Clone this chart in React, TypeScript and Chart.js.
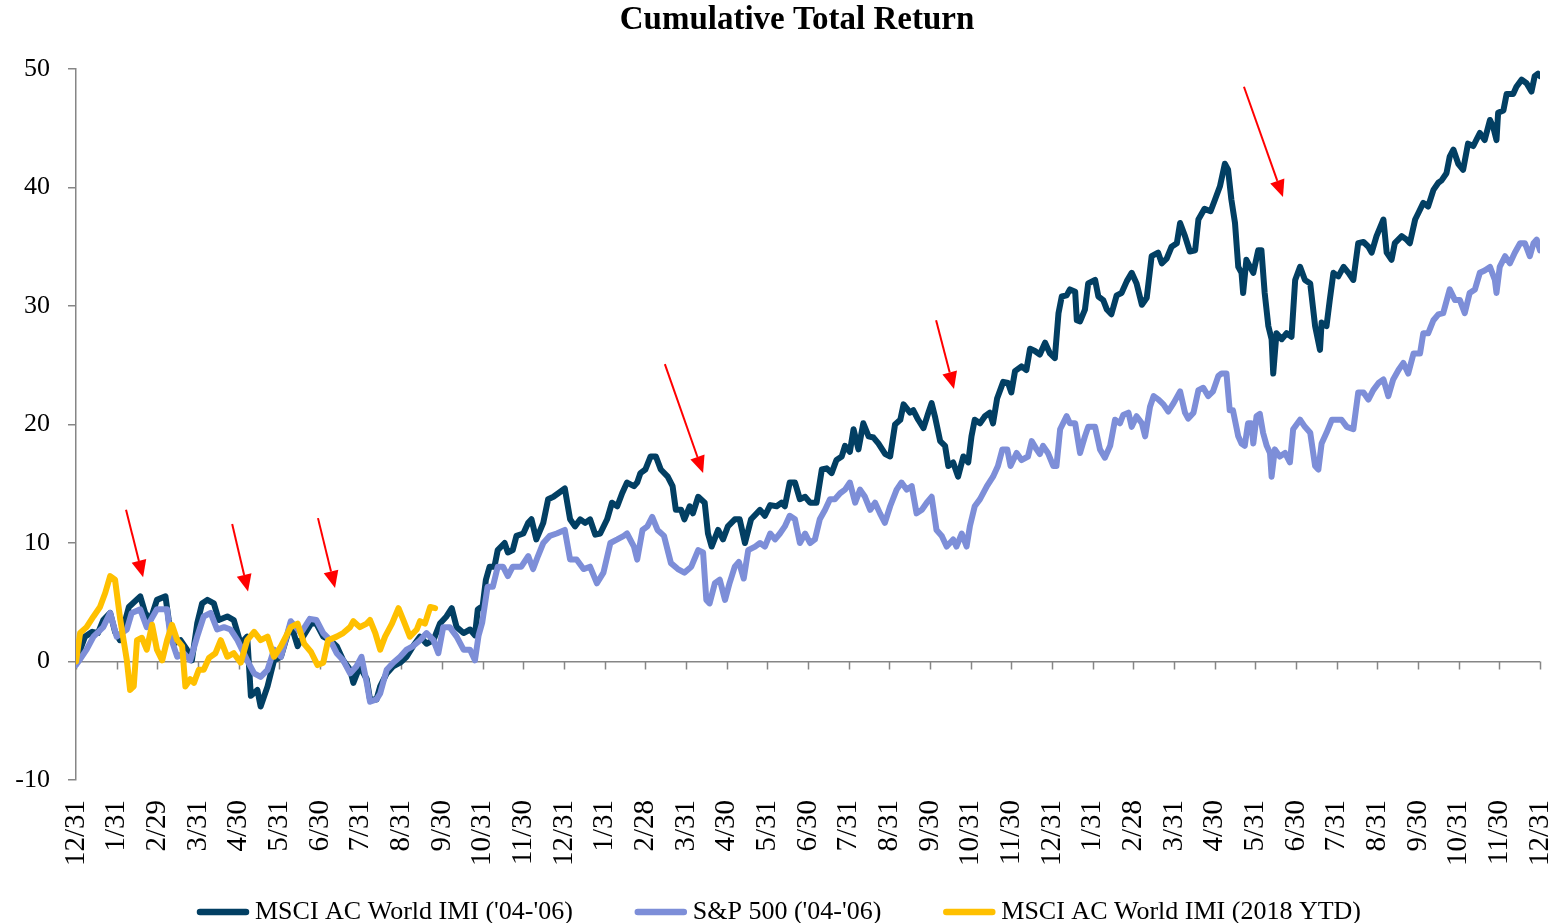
import { useEffect, useRef } from "react";
import { Chart, registerables } from "chart.js";

Chart.register(...registerables);

// Month-end tick labels (x = months since 12/31/2003)
const monthLabels = [
  "12/31", "1/31", "2/29", "3/31", "4/30", "5/31", "6/30", "7/31", "8/31", "9/30", "10/31", "11/30",
  "12/31", "1/31", "2/28", "3/31", "4/30", "5/31", "6/30", "7/31", "8/31", "9/30", "10/31", "11/30",
  "12/31", "1/31", "2/28", "3/31", "4/30", "5/31", "6/30", "7/31", "8/31", "9/30", "10/31", "11/30",
  "12/31",
];

const chartTitle = "Cumulative Total Return";
const seriesNames = ["MSCI AC World IMI ('04-'06)", "S&P 500 ('04-'06)", "MSCI AC World IMI (2018 YTD)"];

// [month, cumulative return %]
const msciWorld0406: [number, number][] = [
  [0, 0.0], [0.22, 2.1], [0.4, 2.5], [0.54, 2.4], [0.67, 3.5], [0.84, 4.1], [0.96, 2.5], [1.08, 1.8],
  [1.3, 4.6], [1.58, 5.5], [1.7, 4.1], [1.83, 3.5], [1.99, 5.2], [2.2, 5.5], [2.28, 3.5], [2.4, 1.5],
  [2.57, 1.8], [2.73, 1.0], [2.85, 0.1], [2.98, 3.2], [3.1, 4.9], [3.23, 5.2], [3.39, 4.9], [3.51, 3.5],
  [3.72, 3.8], [3.88, 3.5], [4.05, 1.5], [4.21, 2.1], [4.3, -2.9], [4.46, -2.4], [4.54, -3.8], [4.71, -2.1],
  [4.87, 0.1], [5.04, 0.4], [5.28, 3.2], [5.45, 1.3], [5.53, 1.8], [5.78, 3.2], [5.91, 3.2], [6.08, 2.1],
  [6.25, 1.8], [6.41, 1.3], [6.57, 0.1], [6.74, -0.7], [6.82, -1.8], [6.98, -0.4], [7.15, -1.5], [7.23, -3.2],
  [7.39, -3.2], [7.48, -2.1], [7.64, -1.0], [7.8, -0.4], [7.97, -0.1], [8.13, 0.4], [8.29, 1.3], [8.46, 2.1],
  [8.62, 1.5], [8.79, 1.8], [8.95, 3.2], [9.11, 3.8], [9.24, 4.5], [9.36, 2.9], [9.53, 2.4], [9.69, 2.7],
  [9.81, 2.2], [9.88, 4.4], [10.0, 4.7], [10.08, 6.9], [10.17, 8.0], [10.29, 8.0], [10.37, 9.4], [10.54, 10.0],
  [10.62, 9.2], [10.74, 9.4], [10.83, 10.6], [11.0, 10.8], [11.12, 11.7], [11.2, 12.0], [11.32, 10.3], [11.49, 11.7],
  [11.61, 13.7], [11.74, 13.9], [11.86, 14.2], [12.02, 14.6], [12.15, 12.0], [12.27, 11.4], [12.4, 12.0], [12.52, 11.7],
  [12.64, 12.0], [12.77, 10.7], [12.89, 10.8], [13.06, 12.0], [13.18, 13.4], [13.31, 13.1], [13.43, 14.2], [13.55, 15.1],
  [13.72, 14.8], [13.8, 15.1], [13.88, 15.9], [14.0, 16.2], [14.13, 17.3], [14.26, 17.3], [14.38, 16.2], [14.55, 15.6],
  [14.67, 14.8], [14.75, 12.8], [14.88, 12.8], [14.96, 12.0], [15.09, 13.1], [15.17, 12.5], [15.3, 13.9], [15.46, 13.4],
  [15.54, 10.8], [15.63, 9.7], [15.79, 11.1], [15.91, 10.3], [16.03, 11.4], [16.2, 12.0], [16.32, 12.0], [16.45, 10.0],
  [16.6, 12.0], [16.82, 12.8], [16.94, 12.3], [17.07, 13.2], [17.23, 13.1], [17.35, 13.4], [17.43, 13.1], [17.55, 15.1],
  [17.68, 15.1], [17.8, 13.7], [17.93, 13.9], [18.05, 13.4], [18.21, 13.4], [18.34, 16.2], [18.46, 16.3], [18.58, 15.9],
  [18.7, 17.0], [18.83, 17.3], [18.91, 18.2], [19.03, 17.7], [19.12, 19.6], [19.24, 17.9], [19.36, 20.1], [19.49, 19.0],
  [19.61, 18.9], [19.73, 18.4], [19.9, 17.5], [20.02, 17.3], [20.14, 20.0], [20.27, 20.4], [20.35, 21.7], [20.51, 21.0],
  [20.59, 21.2], [20.71, 20.4], [20.84, 19.7], [20.96, 21.0], [21.04, 21.8], [21.12, 20.7], [21.25, 18.6], [21.37, 18.2],
  [21.45, 16.5], [21.57, 16.8], [21.69, 15.6], [21.82, 17.3], [21.94, 16.8], [22.02, 19.0], [22.1, 20.4], [22.23, 20.1],
  [22.35, 20.7], [22.47, 21.0], [22.55, 20.1], [22.65, 22.2], [22.8, 23.6], [22.92, 23.5], [23.0, 22.7], [23.09, 24.5],
  [23.25, 24.9], [23.37, 24.6], [23.46, 26.4], [23.58, 26.2], [23.7, 25.9], [23.83, 26.9], [23.95, 26.0], [24.07, 25.6],
  [24.16, 29.4], [24.24, 30.8], [24.36, 30.9], [24.44, 31.4], [24.57, 31.2], [24.61, 28.8], [24.69, 28.7], [24.81, 29.7],
  [24.89, 31.9], [25.06, 32.2], [25.14, 30.8], [25.26, 30.5], [25.35, 29.7], [25.46, 29.3], [25.59, 30.9], [25.71, 31.1],
  [25.84, 32.1], [25.96, 32.8], [26.08, 31.9], [26.21, 30.1], [26.33, 30.7], [26.45, 34.2], [26.61, 34.5], [26.7, 33.6],
  [26.82, 34.0], [26.94, 35.0], [27.07, 35.3], [27.15, 37.0], [27.27, 35.9], [27.39, 34.6], [27.52, 34.7], [27.6, 37.3],
  [27.75, 38.2], [27.9, 38.0], [28.0, 38.9], [28.13, 40.1], [28.25, 42.0], [28.33, 41.5], [28.41, 39.0], [28.5, 37.0],
  [28.58, 33.3], [28.66, 32.8], [28.7, 31.1], [28.78, 33.9], [28.87, 33.3], [28.95, 32.8], [29.07, 34.7], [29.15, 34.7],
  [29.23, 31.1], [29.32, 28.3], [29.4, 27.2], [29.44, 24.3], [29.52, 27.7], [29.65, 27.2], [29.77, 27.7], [29.89, 27.4],
  [29.98, 32.2], [30.1, 33.3], [30.22, 32.2], [30.35, 31.9], [30.47, 28.3], [30.59, 26.3], [30.63, 28.6], [30.75, 28.3],
  [30.83, 30.5], [30.92, 32.8], [31.04, 32.5], [31.17, 33.3], [31.29, 32.8], [31.41, 32.2], [31.53, 35.3], [31.66, 35.4],
  [31.78, 35.0], [31.86, 34.5], [31.98, 35.9], [32.15, 37.3], [32.23, 34.5], [32.35, 33.9], [32.43, 35.3], [32.6, 35.9],
  [32.72, 35.6], [32.8, 35.3], [32.93, 37.3], [33.03, 38.0], [33.13, 38.7], [33.25, 38.4], [33.38, 39.8], [33.5, 40.4],
  [33.58, 40.6], [33.7, 41.2], [33.78, 42.6], [33.87, 43.2], [33.99, 42.0], [34.11, 41.5], [34.23, 43.7], [34.36, 43.5],
  [34.52, 44.6], [34.64, 44.0], [34.77, 45.7], [34.85, 45.1], [34.93, 44.0], [34.97, 46.3], [35.1, 46.5], [35.18, 47.9],
  [35.34, 47.9], [35.42, 48.5], [35.55, 49.1], [35.67, 48.8], [35.79, 48.1], [35.87, 49.4], [35.95, 49.6], [36.0, 49.4],
];

const sp500_0406: [number, number][] = [
  [0, -0.3], [0.12, 0.3], [0.26, 1.0], [0.43, 2.1], [0.67, 2.9], [0.84, 4.1], [1.0, 2.1], [1.25, 2.7],
  [1.37, 4.1], [1.58, 4.4], [1.74, 2.9], [1.99, 4.4], [2.24, 4.4], [2.32, 2.1], [2.49, 0.4], [2.65, 0.7],
  [2.81, 0.1], [2.98, 2.1], [3.14, 3.8], [3.31, 4.1], [3.47, 2.7], [3.64, 2.9], [3.8, 2.7], [3.97, 1.8],
  [4.21, 0.1], [4.38, -1.0], [4.54, -1.3], [4.71, -0.7], [4.87, 1.0], [5.04, 0.4], [5.28, 3.4], [5.53, 2.4],
  [5.75, 3.6], [5.91, 3.5], [6.08, 2.4], [6.25, 1.8], [6.41, 0.7], [6.57, 0.1], [6.74, -1.0], [6.9, -0.4],
  [7.02, 0.4], [7.15, -1.8], [7.23, -3.4], [7.39, -3.2], [7.48, -2.7], [7.64, -0.7], [7.8, -0.1], [7.97, 0.4],
  [8.13, 1.0], [8.29, 1.3], [8.46, 1.8], [8.62, 2.4], [8.79, 1.8], [8.91, 0.7], [9.03, 2.9], [9.19, 2.9],
  [9.36, 2.1], [9.53, 1.0], [9.69, 1.0], [9.81, 0.1], [9.9, 2.2], [9.99, 3.3], [10.12, 6.3], [10.25, 6.3],
  [10.37, 8.0], [10.5, 8.0], [10.62, 7.2], [10.74, 8.0], [10.95, 8.0], [11.12, 8.9], [11.24, 7.8], [11.36, 8.9],
  [11.49, 10.0], [11.65, 10.6], [11.82, 10.8], [12.02, 11.1], [12.15, 8.6], [12.31, 8.6], [12.48, 7.8], [12.64, 8.0],
  [12.81, 6.6], [12.97, 7.5], [13.14, 10.0], [13.31, 10.3], [13.47, 10.6], [13.55, 10.8], [13.72, 9.7], [13.8, 8.6],
  [13.93, 11.1], [14.05, 11.4], [14.17, 12.2], [14.3, 11.1], [14.46, 10.6], [14.63, 8.3], [14.8, 7.8], [14.96, 7.5],
  [15.13, 8.0], [15.3, 9.4], [15.42, 9.2], [15.5, 5.2], [15.58, 4.9], [15.71, 6.6], [15.83, 6.9], [15.96, 5.2],
  [16.07, 6.6], [16.2, 8.0], [16.3, 8.4], [16.42, 7.0], [16.53, 9.4], [16.7, 9.7], [16.82, 10.0], [16.94, 9.7],
  [17.07, 10.8], [17.19, 10.3], [17.31, 10.8], [17.43, 11.4], [17.55, 12.3], [17.68, 12.0], [17.8, 10.0], [17.93, 10.8],
  [18.05, 10.0], [18.17, 10.3], [18.29, 12.0], [18.42, 12.8], [18.54, 13.7], [18.66, 13.7], [18.79, 14.2], [18.91, 14.5],
  [19.03, 15.1], [19.16, 13.4], [19.28, 14.5], [19.4, 13.9], [19.53, 12.8], [19.65, 13.4], [19.77, 12.5], [19.89, 11.7],
  [20.02, 13.1], [20.18, 14.5], [20.3, 15.1], [20.43, 14.5], [20.55, 14.8], [20.67, 12.5], [20.8, 12.8], [20.92, 13.4],
  [21.04, 13.9], [21.16, 11.1], [21.29, 10.6], [21.41, 9.7], [21.57, 10.3], [21.65, 9.7], [21.78, 10.8], [21.9, 9.7],
  [21.98, 11.4], [22.1, 13.1], [22.23, 13.7], [22.4, 14.8], [22.55, 15.6], [22.67, 16.5], [22.78, 17.9], [22.9, 17.9],
  [22.98, 16.5], [23.13, 17.6], [23.25, 17.0], [23.41, 17.3], [23.5, 18.6], [23.62, 17.9], [23.7, 17.5], [23.78, 18.2],
  [23.9, 17.6], [24.03, 16.5], [24.11, 16.5], [24.2, 19.6], [24.36, 20.7], [24.44, 20.1], [24.57, 20.1], [24.69, 17.6],
  [24.81, 19.0], [24.89, 19.8], [25.06, 19.8], [25.18, 17.9], [25.3, 17.2], [25.43, 18.2], [25.55, 20.4], [25.67, 20.1],
  [25.75, 20.8], [25.88, 21.0], [25.96, 19.8], [26.08, 20.7], [26.21, 20.1], [26.29, 19.0], [26.41, 21.5], [26.5, 22.4],
  [26.62, 22.1], [26.74, 21.7], [26.86, 21.1], [26.99, 21.8], [27.15, 22.8], [27.27, 21.0], [27.35, 20.5], [27.48, 21.0],
  [27.6, 22.9], [27.72, 23.1], [27.84, 22.4], [27.96, 22.8], [28.09, 24.1], [28.17, 24.3], [28.29, 24.3], [28.37, 21.2],
  [28.45, 21.2], [28.58, 19.0], [28.66, 18.4], [28.74, 18.2], [28.82, 20.1], [28.9, 20.1], [28.95, 18.4], [29.03, 20.7],
  [29.11, 20.9], [29.19, 19.3], [29.28, 18.2], [29.36, 17.6], [29.4, 15.6], [29.48, 17.9], [29.6, 17.3], [29.73, 17.6],
  [29.85, 16.8], [29.93, 19.6], [30.1, 20.4], [30.22, 19.8], [30.35, 19.3], [30.47, 16.5], [30.55, 16.2], [30.63, 18.4],
  [30.75, 19.3], [30.88, 20.4], [31.0, 20.4], [31.12, 20.4], [31.25, 19.8], [31.41, 19.6], [31.53, 22.7], [31.66, 22.7],
  [31.78, 22.1], [31.9, 22.9], [32.03, 23.5], [32.15, 23.8], [32.27, 22.4], [32.39, 23.8], [32.52, 24.6], [32.64, 25.2],
  [32.76, 24.3], [32.89, 26.0], [33.05, 26.0], [33.13, 27.7], [33.25, 27.7], [33.38, 28.8], [33.5, 29.3], [33.62, 29.4],
  [33.78, 31.4], [33.91, 30.5], [34.03, 30.5], [34.15, 29.4], [34.27, 31.1], [34.4, 31.4], [34.52, 32.8], [34.64, 33.0],
  [34.77, 33.3], [34.89, 32.2], [34.93, 31.1], [35.01, 33.3], [35.14, 34.2], [35.26, 33.6], [35.38, 34.5], [35.51, 35.3],
  [35.63, 35.3], [35.75, 34.2], [35.84, 35.3], [35.92, 35.6], [36.0, 34.7],
];

const msciWorld2018: [number, number][] = [
  [0, 0.0], [0.1, 2.4], [0.26, 2.9], [0.43, 3.8], [0.59, 4.6], [0.72, 5.8], [0.84, 7.2], [0.96, 6.9],
  [1.09, 3.5], [1.25, 0.1], [1.33, -2.4], [1.42, -2.1], [1.5, 1.8], [1.62, 2.0], [1.74, 1.0], [1.87, 3.1],
  [1.99, 1.0], [2.12, 0.1], [2.24, 1.8], [2.36, 3.1], [2.49, 1.8], [2.61, 1.3], [2.69, -2.1], [2.81, -1.5],
  [2.9, -1.8], [3.02, -0.7], [3.14, -0.7], [3.27, 0.3], [3.43, 0.7], [3.56, 1.8], [3.72, 0.4], [3.88, 0.7],
  [4.05, -0.1], [4.21, 1.8], [4.38, 2.5], [4.54, 1.8], [4.71, 2.1], [4.87, 0.4], [5.04, 1.3], [5.28, 2.9],
  [5.45, 3.2], [5.61, 1.5], [5.78, 0.8], [5.94, -0.3], [6.08, -0.1], [6.2, 1.8], [6.41, 2.1], [6.57, 2.4],
  [6.74, 2.9], [6.82, 3.4], [6.98, 2.9], [7.15, 3.2], [7.23, 3.5], [7.36, 2.4], [7.48, 1.0], [7.6, 2.1],
  [7.77, 3.2], [7.93, 4.5], [8.05, 3.5], [8.21, 2.1], [8.38, 2.7], [8.46, 3.4], [8.58, 3.2], [8.71, 4.6],
  [8.83, 4.5],
];

// Red annotation arrows: [month, value] of tail and tip
const arrowTails: [number, number][] = [
  [1.23, 12.8], [3.84, 11.6], [5.95, 12.1], [14.48, 25.1], [21.15, 28.8], [28.72, 48.5],
];
const arrowTips: [number, number][] = [
  [1.65, 7.1], [4.23, 5.9], [6.37, 6.2], [15.42, 15.9], [21.59, 23.0], [29.68, 39.2],
];

const NAVY = "#023f63";
const PERIWINKLE = "#7d8ed8";
const GOLD = "#ffc000";
const AXIS_GREY = "#868686";

const CANVAS_W = 1566;
const CANVAS_H = 923;
const PLOT_LEFT = 76;
const PLOT_TOP = 69;
const PLOT_BOTTOM = 780;
const PLOT_RIGHT_PAD = 26;
const X_AXIS_H = 92;
const LEGEND_FONT = 26;
const LEGEND_Y = 912;
const LEGEND_CENTER_X = 779;
const LEGEND_LINE = 52;
const LEGEND_TEXT_GAP = 6;
const LEGEND_ITEM_GAP = 62;
const TITLE_X = 797;
const TITLE_Y = 20;

const zeroTicksPlugin = {
  id: "zeroTicks",
  beforeDatasetsDraw(chart: any) {
    const { ctx, scales } = chart;
    const x = scales.x;
    const y = scales.y;
    const py = y.getPixelForValue(0);
    ctx.save();
    ctx.strokeStyle = AXIS_GREY;
    ctx.lineWidth = 1.5;
    x.ticks.forEach((t: any) => {
      const px = Math.round(x.getPixelForValue(t.value)) + 0.5;
      ctx.beginPath();
      ctx.moveTo(px, py);
      ctx.lineTo(px, py + 8);
      ctx.stroke();
    });
    ctx.restore();
  },
};

const arrowPlugin = {
  id: "redArrows",
  afterDatasetsDraw(chart: any) {
    const { ctx, scales } = chart;
    const x = scales.x;
    const y = scales.y;
    ctx.save();
    ctx.strokeStyle = "#ff0000";
    ctx.fillStyle = "#ff0000";
    ctx.lineWidth = 2;
    arrowTails.forEach((s, i) => {
      const t = arrowTips[i];
      const x1 = x.getPixelForValue(s[0]);
      const y1 = y.getPixelForValue(s[1]);
      const x2 = x.getPixelForValue(t[0]);
      const y2 = y.getPixelForValue(t[1]);
      const ang = Math.atan2(y2 - y1, x2 - x1);
      const headLen = 17;
      const headW = 7.5;
      const bx = x2 - headLen * Math.cos(ang);
      const by = y2 - headLen * Math.sin(ang);
      ctx.beginPath();
      ctx.moveTo(x1, y1);
      ctx.lineTo(bx, by);
      ctx.stroke();
      ctx.beginPath();
      ctx.moveTo(x2, y2);
      ctx.lineTo(bx + headW * Math.sin(ang), by - headW * Math.cos(ang));
      ctx.lineTo(bx - headW * Math.sin(ang), by + headW * Math.cos(ang));
      ctx.closePath();
      ctx.fill();
    });
    ctx.restore();
  },
};

const titleLegendPlugin = {
  id: "titleLegend",
  afterDraw(chart: any) {
    const ctx = chart.ctx;
    ctx.save();
    // title
    ctx.fillStyle = "#000";
    ctx.textAlign = "center";
    ctx.textBaseline = "middle";
    ctx.font = "bold 33px 'Liberation Serif', serif";
    ctx.fillText(chartTitle, TITLE_X, TITLE_Y);
    // legend
    ctx.font = `${LEGEND_FONT}px 'Liberation Serif', serif`;
    const items = chart.data.datasets.map((ds: any) => ({
      label: ds.label as string,
      color: ds.borderColor as string,
      w: ctx.measureText(ds.label).width,
    }));
    const total =
      items.reduce((s: number, it: any) => s + LEGEND_LINE + LEGEND_TEXT_GAP + it.w, 0) +
      LEGEND_ITEM_GAP * (items.length - 1);
    let cx = LEGEND_CENTER_X - total / 2;
    ctx.textAlign = "left";
    items.forEach((it: any) => {
      ctx.strokeStyle = it.color;
      ctx.lineWidth = 6.5;
      ctx.lineCap = "round";
      ctx.beginPath();
      ctx.moveTo(cx + 3, LEGEND_Y);
      ctx.lineTo(cx + LEGEND_LINE - 3, LEGEND_Y);
      ctx.stroke();
      cx += LEGEND_LINE + LEGEND_TEXT_GAP;
      ctx.fillStyle = "#000";
      ctx.fillText(it.label, cx, LEGEND_Y);
      cx += it.w + LEGEND_ITEM_GAP;
    });
    ctx.restore();
  },
};

export default function App() {
  const canvasRef = useRef<HTMLCanvasElement | null>(null);

  useEffect(() => {
    if (!canvasRef.current) return;
    const lineDefaults = {
      borderWidth: 6,
      pointRadius: 0,
      pointHoverRadius: 0,
      tension: 0,
      fill: false,
      borderJoinStyle: "round" as const,
      borderCapStyle: "round" as const,
    };
    const chart = new Chart(canvasRef.current, {
      type: "line",
      data: {
        datasets: [
          { ...lineDefaults, label: seriesNames[0], data: msciWorld0406 as any, borderColor: NAVY, backgroundColor: NAVY, order: 3 },
          { ...lineDefaults, label: seriesNames[1], data: sp500_0406 as any, borderColor: PERIWINKLE, backgroundColor: PERIWINKLE, order: 2 },
          { ...lineDefaults, label: seriesNames[2], data: msciWorld2018 as any, borderColor: GOLD, backgroundColor: GOLD, order: 1 },
        ],
      },
      options: {
        responsive: false,
        animation: false,
        devicePixelRatio: 1,
        color: "#000",
        layout: {
          padding: { left: 0, right: PLOT_RIGHT_PAD, top: PLOT_TOP, bottom: CANVAS_H - PLOT_BOTTOM - X_AXIS_H },
        },
        plugins: {
          tooltip: { enabled: false },
          title: { display: false },
          legend: { display: false },
        },
        scales: {
          x: {
            type: "linear",
            min: 0,
            max: 36,
            afterFit: (scale: any) => {
              scale.height = X_AXIS_H;
              scale.paddingLeft = 0;
              scale.paddingRight = 0;
            },
            ticks: {
              stepSize: 1,
              maxTicksLimit: 40,
              autoSkip: false,
              maxRotation: 90,
              minRotation: 90,
              padding: 20,
              color: "#000",
              font: { family: "'Liberation Serif', serif", size: 29 },
              callback: (v: any) => monthLabels[Math.round(Number(v))] ?? "",
            },
            grid: { display: false, drawTicks: false },
            border: { display: false },
          },
          y: {
            min: -10,
            max: 50,
            afterFit: (scale: any) => {
              scale.width = PLOT_LEFT;
            },
            ticks: {
              stepSize: 10,
              padding: 18,
              color: "#000",
              font: { family: "'Liberation Serif', serif", size: 26 },
            },
            grid: {
              color: (c: any) => (c.tick && c.tick.value === 0 ? AXIS_GREY : "rgba(0,0,0,0)"),
              lineWidth: 1.5,
              tickColor: AXIS_GREY,
              tickLength: 8,
              drawTicks: true,
            },
            border: { display: true, color: AXIS_GREY, width: 1.5 },
          },
        },
      },
      plugins: [zeroTicksPlugin, arrowPlugin, titleLegendPlugin],
    });
    return () => chart.destroy();
  }, []);

  return (
    <div style={{ position: "absolute", left: 0, top: 0, width: CANVAS_W, height: CANVAS_H, overflow: "hidden", background: "#fff" }}>
      <canvas ref={canvasRef} width={CANVAS_W} height={CANVAS_H} style={{ display: "block" }} />
    </div>
  );
}
